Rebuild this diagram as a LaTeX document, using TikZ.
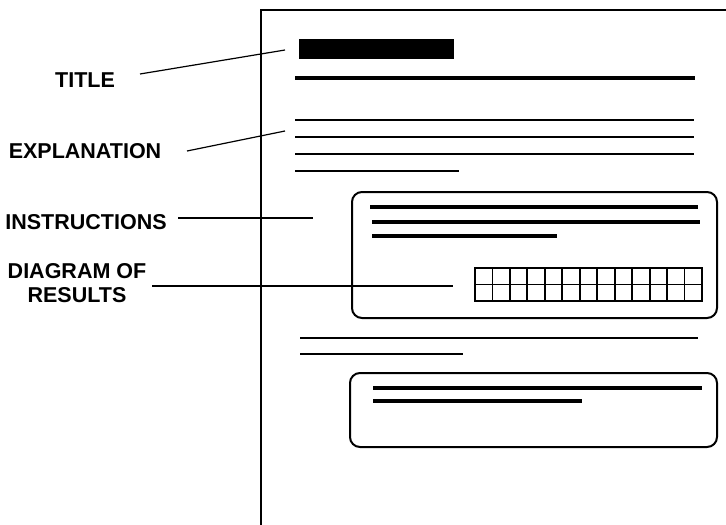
\documentclass[tikz,border=0pt]{standalone}
\usepackage{fontspec}
\setmainfont{Liberation Sans}
\begin{document}
\begin{tikzpicture}[x=1pt,y=-1pt,
  lbl/.style={font=\fontsize{21.5}{23}\selectfont\bfseries, inner sep=0pt, align=center},
  leader/.style={line width=1.2pt, black},
  frame/.style={line width=2.4pt, black},
  rule/.style={line width=2.5pt, black},
  thick rule/.style={line width=4pt, black},
  panel/.style={draw, line width=2pt, rounded corners=10pt}]
\useasboundingbox (0,0) rectangle (726,525);
% page
\draw[frame] (726,10) -- (261,10) -- (261,525);
% title bar
\fill (299,39) rectangle (454,59);
\draw[thick rule] (295,78) -- (695,78);
% explanation lines
\draw[rule] (295,120) -- (694,120);
\draw[rule] (295,137) -- (694,137);
\draw[rule] (295,154) -- (694,154);
\draw[rule] (295,171) -- (459,171);
% instructions panel
\node[panel, minimum width=365pt, minimum height=126pt, anchor=north west] (instbox) at (351,191) {};
\draw[line width=3.5pt] (370,207) -- (698,207);
\draw[line width=4pt] (372,222) -- (700,222);
\draw[line width=3.5pt] (372,236) -- (557,236);
% grid
\draw[line width=2.2pt] (475,268) rectangle (702,301);
\foreach \i in {1,...,12} {
  \draw[line width=1.8pt] ({475+\i*227/13},268) -- ({475+\i*227/13},301);
}
\draw[line width=1.8pt] (475,284.5) -- (702,284.5);
% lines below
\draw[rule] (300,338) -- (698,338);
\draw[rule] (300,354) -- (463,354);
% second panel
\node[panel, minimum width=367pt, minimum height=74pt, anchor=north west] (box2) at (349,372) {};
\draw[line width=4pt] (373,388) -- (702,388);
\draw[line width=4pt] (373,401) -- (582,401);
% labels
\node[lbl] (title) at (85,80) {TITLE};
\node[lbl] (expl) at (85,151) {EXPLANATION};
\node[lbl] (instr) at (86,222) {INSTRUCTIONS};
\node[lbl] (diag) at (77,283) {DIAGRAM OF\\[1pt]RESULTS};
% leader endpoints
\coordinate (t1) at (140,74);
\coordinate (t2) at (285,50);
\coordinate (e1) at (187,151);
\coordinate (e2) at (285,131);
\coordinate (i1) at (178,218);
\coordinate (i2) at (313,218);
\coordinate (d1) at (152,286);
\coordinate (d2) at (453,286);
\draw[leader] (t1) -- (t2);
\draw[leader] (e1) -- (e2);
\draw[leader] (i1) -- (i2);
\draw[leader] (d1) -- (d2);
\end{tikzpicture}
\end{document}
